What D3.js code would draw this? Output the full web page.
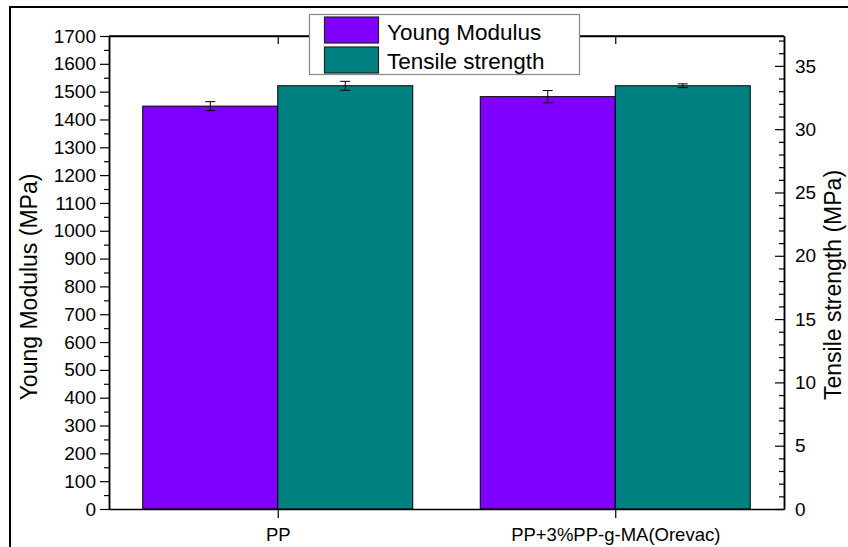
<!DOCTYPE html>
<html><head><meta charset="utf-8">
<script src="https://cdn.jsdelivr.net/npm/d3@7"></script>
<style>body{margin:0;background:#fff}svg{display:block;font-family:Arial,"Liberation Sans",sans-serif}</style>
</head><body>
<svg id="c" width="848" height="547"></svg>
<script>
const categories = ["PP", "PP+3%PP-g-MA(Orevac)"];
const youngModulus = [1448, 1482];
const youngErr = [16, 22];
const tensileStrength = [33.43, 33.43];
const tensileErr = [0.35, 0.15];
const leftTicks = d3.range(0, 1701, 100);
const rightTicks = [0, 5, 10, 15, 20, 25, 30, 35];
const seriesNames = ["Young Modulus", "Tensile strength"];
const colors = ["#8000FF", "#008080"];

const svg = d3.select("#c");
const L = 109, R = 784, T = 36, B = 509;

// outer frame
svg.append("rect").attr("x", 10).attr("y", 7).attr("width", 900).attr("height", 600)
  .attr("fill", "none").attr("stroke", "#000").attr("stroke-width", 2);

const x = d3.scalePoint().domain(categories).range([L, R]).padding(0.5);
const step = x.step();
const bw = step * 0.4;
const yL = d3.scaleLinear().domain([0, 1700]).range([B, T]);
const yR = d3.scaleLinear().domain([0, 37.36]).range([B, T]);

// bars
const g = svg.append("g");
categories.forEach((c, i) => {
  g.append("rect").attr("x", x(c) - bw).attr("y", yL(youngModulus[i]))
    .attr("width", bw).attr("height", B - yL(youngModulus[i]))
    .attr("fill", colors[0]).attr("stroke", "#000").attr("stroke-width", 1);
  g.append("rect").attr("x", x(c)).attr("y", yR(tensileStrength[i]))
    .attr("width", bw).attr("height", B - yR(tensileStrength[i]))
    .attr("fill", colors[1]).attr("stroke", "#000").attr("stroke-width", 1);
});
// error bars
function err(cx, y1, y2) {
  g.append("line").attr("x1", cx).attr("x2", cx).attr("y1", y1).attr("y2", y2).attr("stroke", "#000");
  [y1, y2].forEach(yy => g.append("line").attr("x1", cx - 5).attr("x2", cx + 5).attr("y1", yy).attr("y2", yy).attr("stroke", "#000"));
}
categories.forEach((c, i) => {
  err(x(c) - bw / 2, yL(youngModulus[i] + youngErr[i]), yL(youngModulus[i] - youngErr[i]));
  err(x(c) + bw / 2, yR(tensileStrength[i] + tensileErr[i]), yR(tensileStrength[i] - tensileErr[i]));
});

// axes
const fs = 19;
const ax = svg.append("g");
ax.append("g").attr("transform", `translate(${L},0)`)
  .call(d3.axisLeft(yL).tickValues(leftTicks).tickFormat(d3.format("d")).tickSize(9).tickSizeOuter(0).tickPadding(4));
ax.append("g").attr("transform", `translate(${L},0)`)
  .call(d3.axisLeft(yL).tickValues(d3.range(50, 1700, 100)).tickSize(5).tickSizeOuter(0).tickFormat(""));
// right axis (ticks inward)
ax.append("g").attr("transform", `translate(${R},0)`)
  .call(d3.axisLeft(yR).tickValues(rightTicks).tickSize(9).tickSizeOuter(0).tickFormat(""));
ax.append("g").attr("transform", `translate(${R},0)`)
  .call(d3.axisLeft(yR).tickValues(d3.range(1, 38, 1).filter(v => v % 5 !== 0)).tickSize(5).tickSizeOuter(0).tickFormat(""));
ax.append("g").selectAll("text").data(rightTicks).join("text")
  .attr("x", R + 11).attr("y", d => yR(d)).attr("dy", "0.35em").attr("font-size", fs).text(d => d);
// bottom axis
const bx = ax.append("g").attr("transform", `translate(0,${B})`)
  .call(d3.axisBottom(x).tickSize(9).tickSizeOuter(0).tickPadding(10));
// top axis
ax.append("g").attr("transform", `translate(0,${T})`)
  .call(d3.axisBottom(x).tickSize(8).tickSizeOuter(0).tickFormat(""));
ax.selectAll(".domain").attr("stroke", "#000").attr("stroke-width", 1.5);
ax.selectAll(".tick line").attr("stroke", "#000").attr("stroke-width", 1.2);
ax.selectAll(".tick text").attr("font-size", fs).attr("fill", "#000").attr("font-family", "Arial, 'Liberation Sans', sans-serif");
bx.selectAll(".tick text").attr("font-size", 18.5);
ax.append("line").attr("x1", L).attr("x2", R).attr("y1", T).attr("y2", T).attr("stroke", "#000").attr("stroke-width", 1.5);

// axis titles
svg.append("text").attr("transform", `translate(37,287) rotate(-90)`)
  .attr("text-anchor", "middle").attr("font-size", 23).text("Young Modulus (MPa)");
svg.append("text").attr("transform", `translate(841,285) rotate(-90)`)
  .attr("text-anchor", "middle").attr("font-size", 23).text("Tensile strength (MPa)");

// legend
const lg = svg.append("g");
lg.append("rect").attr("x", 309.5).attr("y", 14.5).attr("width", 270).attr("height", 60)
  .attr("fill", "#fff").attr("stroke", "#888").attr("stroke-width", 1.2);
seriesNames.forEach((n, i) => {
  lg.append("rect").attr("x", 324.5).attr("y", 17 + i * 30).attr("width", 54).attr("height", 26)
    .attr("fill", colors[i]).attr("stroke", "#222").attr("stroke-width", 1.2);
  lg.append("text").attr("x", 387).attr("y", 39.5 + i * 29.5).attr("font-size", 22.5).text(n);
});
</script>
</body></html>
